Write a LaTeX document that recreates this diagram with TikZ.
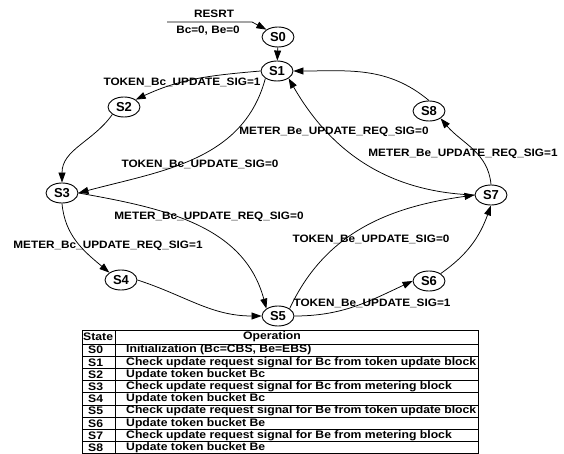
\documentclass[tikz,border=0pt]{standalone}
\usepackage{fontspec}
\setmainfont{Liberation Sans}
\usetikzlibrary{shapes.geometric,arrows.meta}
\newcommand{\lbl}[1]{\scalebox{1.1}[1]{\fontsize{10.7}{11}\selectfont\bfseries #1}}
\newcommand{\tbl}[1]{\scalebox{1.12}[1]{\fontsize{10.9}{11}\selectfont\bfseries #1}}
\begin{document}
\begin{tikzpicture}[x=1pt,y=-1pt,
  st/.style={ellipse,draw,line width=0.9pt,minimum width=32pt,minimum height=20pt,inner sep=0pt,font=\fontsize{13}{13}\selectfont\bfseries},
  tr/.style={-{Triangle[length=10pt,width=7pt]},line width=0.75pt},
  lab/.style={inner sep=0pt},
  rule/.style={line width=0.7pt}]
\useasboundingbox (0,0) rectangle (564,454);
% states
\node[st] (S0) at (278,37) {S0};
\node[st] (S1) at (277,71) {S1};
\node[st] (S2) at (124,107) {S2};
\node[st] (S3) at (62,193) {S3};
\node[st] (S4) at (121,280) {S4};
\node[st] (S5) at (278,316) {S5};
\node[st] (S6) at (429,281) {S6};
\node[st] (S7) at (491,195) {S7};
\node[st] (S8) at (429,111) {S8};
% reset
\coordinate (r0) at (167,22);
\coordinate (r1) at (252,22);
\draw[tr] (r0) -- (r1) -- (S0.north west);
\node[lab] (lr1) at (214,14) {\lbl{RESRT}};
\node[lab] (lr2) at (208,31) {\lbl{Bc=0, Be=0}};
% transitions
\draw[tr] (S0) -- (S1);
\draw[tr] (S1.west) to[out=185,in=25] (S2.north east);
\draw[tr] (S2.south west) to[out=235,in=90] (S3.north);
\draw[tr] (S1.south west) to[out=255,in=15] (S3.east);
\draw[tr] (S3.south) to[out=275,in=140] (S4.north west);
\draw[tr] (S3.east) to[out=-10,in=105] (S5.north west);
\draw[tr] (S4.east) to[out=-18,in=180] (S5.west);
\draw[tr] (S5.east) to[out=0,in=205] (S6.west);
\draw[tr] (S5.north east) to[out=65,in=188] (S7.west);
\draw[tr] (S6.north east) to[out=35,in=250] (S7.south);
\draw[tr] (S7.north) to[out=95,in=310] (S8.south east);
\draw[tr] (S7.west) to[out=178,in=300] (S1.south east);
\draw[tr] (S8.north) to[out=140,in=0] (S1.east);
% labels
\node[lab] (l12) at (182,82) {\lbl{TOKEN\_Bc\_UPDATE\_SIG=1}};
\node[lab] (l13) at (200,164) {\lbl{TOKEN\_Bc\_UPDATE\_SIG=0}};
\node[lab] (l34) at (108,246) {\lbl{METER\_Bc\_UPDATE\_REQ\_SIG=1}};
\node[lab] (l35) at (209,217) {\lbl{METER\_Bc\_UPDATE\_REQ\_SIG=0}};
\node[lab] (l56) at (372,303) {\lbl{TOKEN\_Be\_UPDATE\_SIG=1}};
\node[lab] (l57) at (371,239) {\lbl{TOKEN\_Be\_UPDATE\_SIG=0}};
\node[lab] (l78) at (463,154) {\lbl{METER\_Be\_UPDATE\_REQ\_SIG=1}};
\node[lab] (l71) at (334,132) {\lbl{METER\_Be\_UPDATE\_REQ\_SIG=0}};
% table
\draw[rule] (82,459) -- (82,330) -- (478,330) -- (478,459);
\draw[rule] (115,330) -- (115,459);
\draw[rule] (82,344) -- (478,344);
\node[lab,anchor=west] (th1) at (83,337) {\tbl{State}};
\node[lab] (th2) at (272,337) {\tbl{Operation}};
\foreach \s/\t [count=\i from 0] in {
  S0/{Initialization (Bc=CBS, Be=EBS)},
  S1/{Check update request signal for Bc from token update block},
  S2/{Update token bucket Bc},
  S3/{Check update request signal for Bc from metering block},
  S4/{Update token bucket Bc},
  S5/{Check update request signal for Be from token update block},
  S6/{Update token bucket Be},
  S7/{Check update request signal for Be from metering block},
  S8/{Update token bucket Be}} {
  \pgfmathsetmacro{\yy}{344+12.2*\i+6.1}
  \node[lab,anchor=west] (ts\i) at (88,\yy) {\tbl{\s}};
  \node[lab,anchor=west] (to\i) at (126,\yy) {\tbl{\t}};
  \draw[rule] (82,\yy+6.1) -- (478,\yy+6.1);
}
\end{tikzpicture}
\end{document}
